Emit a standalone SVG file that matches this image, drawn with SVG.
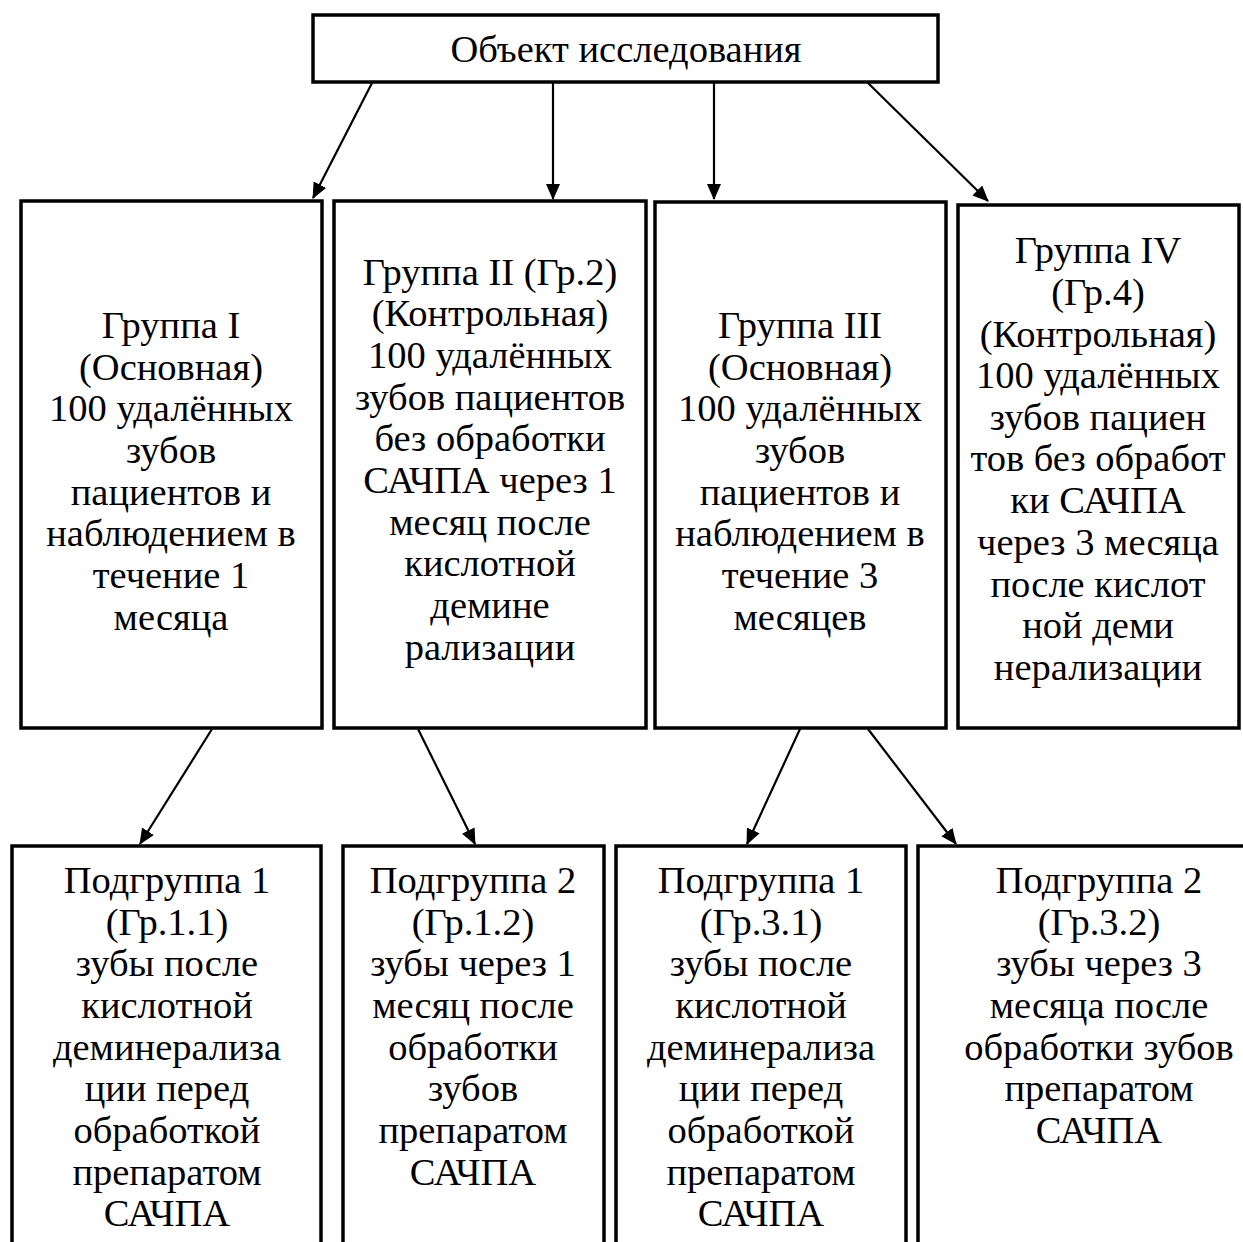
<svg xmlns="http://www.w3.org/2000/svg" width="1243" height="1242" viewBox="0 0 1243 1242">
<style>
.box{fill:#fff;stroke:#000;stroke-width:3.5}
.t{font-family:"Liberation Serif","Times New Roman",serif;font-size:38.5px;fill:#000;text-anchor:middle}
.c{stroke:#000;stroke-width:2.2;fill:none}
</style>
<defs>
<marker id="ah" markerWidth="16" markerHeight="14" refX="15" refY="7" orient="auto" markerUnits="userSpaceOnUse">
<path d="M0,0 L16,7 L0,14 Z" fill="#000"/>
</marker>
</defs>
<rect width="1243" height="1242" fill="#fff"/>
<g id="connectors">
<line class="c" x1="372" y1="83" x2="313" y2="198" marker-end="url(#ah)"/>
<line class="c" x1="553" y1="83" x2="553" y2="199" marker-end="url(#ah)"/>
<line class="c" x1="714" y1="83" x2="714" y2="199" marker-end="url(#ah)"/>
<line class="c" x1="868" y1="83" x2="988" y2="201" marker-end="url(#ah)"/>
<line class="c" x1="212" y1="729" x2="140" y2="844" marker-end="url(#ah)"/>
<line class="c" x1="418" y1="729" x2="475" y2="844" marker-end="url(#ah)"/>
<line class="c" x1="800" y1="729" x2="747" y2="844" marker-end="url(#ah)"/>
<line class="c" x1="868" y1="729" x2="956" y2="844" marker-end="url(#ah)"/>
</g>
<g id="top">
<rect class="box" x="313" y="15" width="625" height="67"/>
<text class="t" x="626" y="62">Объект исследования</text>
</g>
<g id="g1">
<rect class="box" x="21" y="201" width="301" height="527"/>
<text class="t" x="171" y="338">Группа I</text>
<text class="t" x="171" y="380">(Основная)</text>
<text class="t" x="171" y="421">100 удалённых</text>
<text class="t" x="171" y="463">зубов</text>
<text class="t" x="171" y="505">пациентов и</text>
<text class="t" x="171" y="546">наблюдением в</text>
<text class="t" x="171" y="588">течение 1</text>
<text class="t" x="171" y="630">месяца</text>
</g>
<g id="g2">
<rect class="box" x="334" y="201" width="312" height="527"/>
<text class="t" x="490" y="285">Группа II (Гр.2)</text>
<text class="t" x="490" y="326">(Контрольная)</text>
<text class="t" x="490" y="368">100 удалённых</text>
<text class="t" x="490" y="410">зубов пациентов</text>
<text class="t" x="490" y="451">без обработки</text>
<text class="t" x="490" y="493">САЧПА через 1</text>
<text class="t" x="490" y="535">месяц после</text>
<text class="t" x="490" y="576">кислотной</text>
<text class="t" x="490" y="618">демине</text>
<text class="t" x="490" y="660">рализации</text>
</g>
<g id="g3">
<rect class="box" x="655" y="202" width="291" height="526"/>
<text class="t" x="800" y="338">Группа III</text>
<text class="t" x="800" y="380">(Основная)</text>
<text class="t" x="800" y="421">100 удалённых</text>
<text class="t" x="800" y="463">зубов</text>
<text class="t" x="800" y="505">пациентов и</text>
<text class="t" x="800" y="546">наблюдением в</text>
<text class="t" x="800" y="588">течение 3</text>
<text class="t" x="800" y="630">месяцев</text>
</g>
<g id="g4">
<rect class="box" x="958" y="205" width="281" height="523"/>
<text class="t" x="1098" y="263">Группа IV</text>
<text class="t" x="1098" y="305">(Гр.4)</text>
<text class="t" x="1098" y="347">(Контрольная)</text>
<text class="t" x="1098" y="388">100 удалённых</text>
<text class="t" x="1098" y="430">зубов пациен</text>
<text class="t" x="1098" y="471">тов без обработ</text>
<text class="t" x="1098" y="513">ки САЧПА</text>
<text class="t" x="1098" y="555">через 3 месяца</text>
<text class="t" x="1098" y="597">после кислот</text>
<text class="t" x="1098" y="638">ной деми</text>
<text class="t" x="1098" y="680">нерализации</text>
</g>
<g id="s1">
<rect class="box" x="12" y="846" width="309" height="420"/>
<text class="t" x="167" y="893">Подгруппа 1</text>
<text class="t" x="167" y="935">(Гр.1.1)</text>
<text class="t" x="167" y="976">зубы после</text>
<text class="t" x="167" y="1018">кислотной</text>
<text class="t" x="167" y="1060">деминерализа</text>
<text class="t" x="167" y="1101">ции перед</text>
<text class="t" x="167" y="1143">обработкой</text>
<text class="t" x="167" y="1185">препаратом</text>
<text class="t" x="167" y="1226">САЧПА</text>
</g>
<g id="s2">
<rect class="box" x="343" y="846" width="261" height="420"/>
<text class="t" x="473" y="893">Подгруппа 2</text>
<text class="t" x="473" y="935">(Гр.1.2)</text>
<text class="t" x="473" y="976">зубы через 1</text>
<text class="t" x="473" y="1018">месяц после</text>
<text class="t" x="473" y="1060">обработки</text>
<text class="t" x="473" y="1101">зубов</text>
<text class="t" x="473" y="1143">препаратом</text>
<text class="t" x="473" y="1185">САЧПА</text>
</g>
<g id="s3">
<rect class="box" x="616" y="846" width="290" height="420"/>
<text class="t" x="761" y="893">Подгруппа 1</text>
<text class="t" x="761" y="935">(Гр.3.1)</text>
<text class="t" x="761" y="976">зубы после</text>
<text class="t" x="761" y="1018">кислотной</text>
<text class="t" x="761" y="1060">деминерализа</text>
<text class="t" x="761" y="1101">ции перед</text>
<text class="t" x="761" y="1143">обработкой</text>
<text class="t" x="761" y="1185">препаратом</text>
<text class="t" x="761" y="1226">САЧПА</text>
</g>
<g id="s4">
<rect class="box" x="918" y="846" width="360" height="420"/>
<text class="t" x="1099" y="893">Подгруппа 2</text>
<text class="t" x="1099" y="935">(Гр.3.2)</text>
<text class="t" x="1099" y="976">зубы через 3</text>
<text class="t" x="1099" y="1018">месяца после</text>
<text class="t" x="1099" y="1060">обработки зубов</text>
<text class="t" x="1099" y="1101">препаратом</text>
<text class="t" x="1099" y="1143">САЧПА</text>
</g>
</svg>
